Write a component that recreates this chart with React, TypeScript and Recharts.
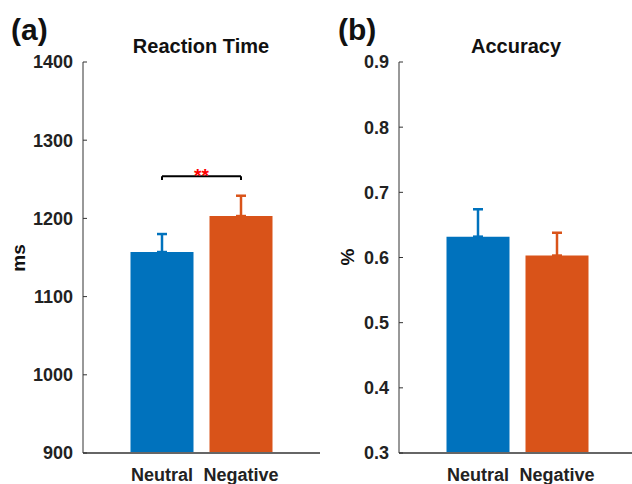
import { BarChart, Bar, XAxis, YAxis, ErrorBar, ReferenceLine } from 'recharts';

const conditions = ['Neutral', 'Negative'];
const barColors = ['#0072BD', '#D95319'];

// (a) reaction time, ms
const rtMeans = [1157, 1203];
const rtErrors = [23, 26];
const rtTicks = [900, 1000, 1100, 1200, 1300, 1400];
const sigLevel = 1254;
const sigHook = 1249;

// (b) accuracy
const accMeans = [0.632, 0.603];
const accErrors = [0.042, 0.035];
const accTicks = [0.3, 0.4, 0.5, 0.6, 0.7, 0.8, 0.9];

const FONT = '"Liberation Sans", Arial, Helvetica, sans-serif';

// one column per condition so each error bar can keep its own colour
function buildRows(means: number[], errors: number[]) {
  return conditions.map((name, i) => {
    const row: Record<string, any> = { name };
    conditions.forEach((_, j) => {
      row[`v${j}`] = i === j ? means[i] : null;
      row[`e${j}`] = i === j ? [0, errors[i]] : null;
    });
    return row;
  });
}

interface PanelProps {
  means: number[];
  errors: number[];
  ticks: number[];
  left: number;
  width: number;
  axisWidth: number;
  format: (v: number) => string;
  children?: any;
}

function Panel({ means, errors, ticks, left, width, axisWidth, format, children }: PanelProps) {
  const rows = buildRows(means, errors);
  return (
    <div style={{ position: 'absolute', left, top: 0 }}>
      <BarChart
        width={width}
        height={484}
        data={rows}
        margin={{ top: 62, right: 10, bottom: 7, left: 0 }}
        barSize={63}
        barGap={-63}
      >
        <XAxis
          dataKey="name"
          interval={0}
          padding={{ left: 39.5, right: 39.5 }}
          height={24}
          tickLine={false}
          tickSize={6}
          tickMargin={9}
          axisLine={{ stroke: '#666', strokeWidth: 2 }}
          tick={{ fill: '#222', fontSize: 18, fontWeight: 'bold', fontFamily: FONT }}
        />
        <YAxis
          width={axisWidth}
          domain={[ticks[0], ticks[ticks.length - 1]]}
          ticks={ticks}
          interval={0}
          tickFormatter={format}
          axisLine={{ stroke: '#333' }}
          tickLine={{ stroke: '#333' }}
          tickSize={-4}
          tickMargin={14}
          tick={{ fill: '#222', fontSize: 18, fontWeight: 'bold', fontFamily: FONT }}
        />
        {conditions.map((c, j) => (
          <Bar key={c} dataKey={`v${j}`} fill={barColors[j]} isAnimationActive={false}>
            <ErrorBar dataKey={`e${j}`} direction="y" width={5} stroke={barColors[j]} strokeWidth={2.5} />
          </Bar>
        ))}
        {children}
      </BarChart>
    </div>
  );
}

export default function App() {
  const bracket = { stroke: '#000', strokeWidth: 2 };
  return (
    <div
      style={{
        position: 'absolute',
        left: 0,
        top: 0,
        width: 632,
        height: 484,
        overflow: 'hidden',
        background: '#fff',
        fontFamily: FONT,
      }}
    >
      <Panel
        means={rtMeans}
        errors={rtErrors}
        ticks={rtTicks}
        left={0}
        width={330}
        axisWidth={83}
        format={(v) => `${v}`}
      >
        <ReferenceLine
          segment={[{ x: conditions[0], y: sigLevel }, { x: conditions[1], y: sigLevel }]}
          {...bracket}
          label={{ value: '**', position: 'top', offset: -6, fill: '#ff0000', fontSize: 19, fontWeight: 'bold', fontFamily: FONT }}
        />
        <ReferenceLine segment={[{ x: conditions[0], y: sigLevel }, { x: conditions[0], y: sigHook }]} {...bracket} />
        <ReferenceLine segment={[{ x: conditions[1], y: sigLevel }, { x: conditions[1], y: sigHook }]} {...bracket} />
      </Panel>
      <Panel
        means={accMeans}
        errors={accErrors}
        ticks={accTicks}
        left={320}
        width={326}
        axisWidth={79}
        format={(v) => v.toFixed(1)}
      />
      <svg
        width={632}
        height={484}
        style={{ position: 'absolute', left: 0, top: 0, pointerEvents: 'none' }}
        fontFamily={FONT}
        fontWeight="bold"
        fill="#111"
      >
        <text x={11} y={40} fontSize={30}>(a)</text>
        <text x={338} y={40} fontSize={30}>(b)</text>
        <text x={201} y={53} fontSize={20} textAnchor="middle">Reaction Time</text>
        <text x={516} y={53} fontSize={20} textAnchor="middle">Accuracy</text>
        <text transform="translate(18,258) rotate(-90)" fontSize={19} textAnchor="middle" dominantBaseline="central">ms</text>
        <text transform="translate(347,257) rotate(-90)" fontSize={19} textAnchor="middle" dominantBaseline="central">%</text>
      </svg>
    </div>
  );
}
